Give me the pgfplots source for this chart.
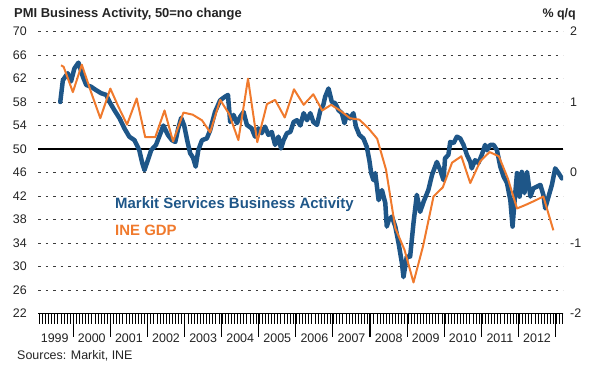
\documentclass[border=0pt]{standalone}
\usepackage{pgfplots}
\pgfplotsset{compat=1.18}
\usepackage{fontspec}
\setmainfont{Liberation Sans}
\definecolor{pmiblue}{RGB}{30,86,136}
\definecolor{gdporange}{RGB}{240,122,45}
\definecolor{txt}{RGB}{35,35,35}
\definecolor{gridc}{RGB}{60,60,60}
\begin{document}
\begin{tikzpicture}[x=1bp,y=1bp]
\path[use as bounding box] (0,0) rectangle (589,376);
\pgfplotsset{
  common/.style={
    at={(38bp,62.5bp)}, anchor=south west,
    width=525bp, height=282bp, scale only axis,
    xmin=1999.05, xmax=2013.2,
    axis line style={draw=none},
    ytick style={draw=none},
    tick label style={font=\fontsize{12.5}{14}\selectfont, text=txt, inner sep=0pt},
  }
}
\begin{axis}[common,
  ymin=22, ymax=70,
  ytick={22,26,...,70},
  yticklabels={22,26,30,34,38,42,46,50,54,58,62,66,70},
  yticklabel style={anchor=east, xshift=12bp},
  ymajorgrids,
  major grid style={dash pattern=on 2.5bp off 5bp, gridc, line width=0.9bp},
  xtick pos=bottom, tick align=outside,
  xtick={2000,...,2013},
  xticklabels={},
  minor xtick={1999.0833,1999.1667,...,2013.2},
  major tick length=23bp, minor tick length=10bp,
  xtick style={black, line width=1.1bp},
  minor x tick style={black, line width=0.8bp},
  extra x ticks={1999.5,2000.5,2001.5,2002.5,2003.5,2004.5,2005.5,2006.5,2007.5,2008.5,2009.5,2010.5,2011.5,2012.5},
  extra x tick labels={1999,2000,2001,2002,2003,2004,2005,2006,2007,2008,2009,2010,2011,2012},
  extra x tick style={major tick length=0pt, xticklabel style={anchor=base, yshift=-29bp}},
]
\draw[black, line width=1.2bp] (axis cs:1999.05,50) -- (axis cs:2013.2,50);
\draw[black, line width=1.3bp] (axis cs:1999.05,22) -- (axis cs:2013.2,22);
\addplot[pmiblue, line width=4.5bp, line join=round, line cap=round] coordinates {
(1999.65,58.0) (1999.72,61.7) (1999.85,62.9) (1999.94,61.5) (2000.03,63.7) (2000.14,64.7)
(2000.26,62.3) (2000.35,60.9) (2000.48,60.6) (2000.62,60.0) (2000.75,59.5) (2000.89,59.2)
(2000.98,58.0) (2001.11,56.6) (2001.25,55.2) (2001.38,53.5) (2001.51,52.1) (2001.65,51.5)
(2001.78,49.8) (2001.86,47.6) (2001.92,46.4) (2002.01,48.1) (2002.10,49.8) (2002.23,50.7)
(2002.34,52.5) (2002.43,54.0) (2002.55,52.4) (2002.66,51.5) (2002.75,51.2) (2002.83,53.5)
(2002.91,55.3) (2002.99,54.0) (2003.07,51.5) (2003.15,49.3) (2003.23,48.5) (2003.30,47.0)
(2003.37,49.8) (2003.47,51.5) (2003.60,51.8) (2003.69,53.2) (2003.82,56.3) (2003.96,58.3)
(2004.09,58.9) (2004.17,59.2) (2004.23,54.6) (2004.32,55.8) (2004.41,54.4) (2004.50,55.5)
(2004.59,56.3) (2004.68,54.1) (2004.81,53.5) (2004.90,52.1) (2004.99,53.5) (2005.08,52.7)
(2005.17,53.8) (2005.26,52.4) (2005.35,52.9) (2005.44,50.7) (2005.53,52.1) (2005.60,50.1)
(2005.67,51.5) (2005.76,52.7) (2005.85,52.9) (2005.94,54.6) (2006.03,54.9) (2006.12,54.0)
(2006.21,56.1) (2006.30,54.9) (2006.39,56.1) (2006.47,54.6) (2006.57,54.1) (2006.66,56.6)
(2006.74,57.5) (2006.79,58.9) (2006.88,60.3) (2006.97,58.0) (2007.06,57.8) (2007.15,56.6)
(2007.24,56.1) (2007.31,54.4) (2007.37,55.8) (2007.46,55.2) (2007.55,56.1) (2007.62,53.8)
(2007.71,52.4) (2007.82,51.8) (2007.91,50.4) (2007.98,48.1) (2008.03,45.9) (2008.09,44.7)
(2008.14,45.9) (2008.23,41.3) (2008.32,43.0) (2008.41,40.8) (2008.45,36.8) (2008.51,38.0)
(2008.59,38.5) (2008.68,36.8) (2008.77,33.9) (2008.86,30.5) (2008.90,28.2) (2008.99,31.7)
(2009.08,31.7) (2009.17,37.4) (2009.26,42.2) (2009.35,39.3) (2009.44,41.0) (2009.57,43.0)
(2009.67,45.6) (2009.80,47.8) (2009.89,46.4) (2009.98,44.7) (2010.02,48.4) (2010.11,49.0)
(2010.16,51.2) (2010.25,51.0) (2010.34,52.1) (2010.43,51.8) (2010.52,50.7) (2010.61,49.0)
(2010.70,47.8) (2010.74,46.7) (2010.83,48.1) (2010.92,47.6) (2011.01,49.0) (2011.10,50.7)
(2011.15,49.8) (2011.24,50.7) (2011.33,50.7) (2011.42,49.8) (2011.51,47.0) (2011.60,45.3)
(2011.69,44.2) (2011.78,41.3) (2011.84,36.8) (2011.89,40.8) (2011.96,45.9) (2012.03,41.9)
(2012.09,46.1) (2012.16,42.5) (2012.23,46.1) (2012.32,41.9) (2012.40,43.3) (2012.50,43.6)
(2012.59,43.9) (2012.67,42.2) (2012.72,39.9) (2012.81,41.9) (2012.90,43.9) (2012.99,46.7)
(2013.08,45.9) (2013.17,45.0)
};
\end{axis}
\begin{axis}[common,
  ymin=-2, ymax=2,
  hide x axis,
  ytick={-2,-1,0,1,2},
  yticklabels={-2,-1,0,1,2},
  ytick pos=right, yticklabel pos=right,
  yticklabel style={anchor=west, xshift=7bp},
]
\addplot[gdporange, line width=2bp, line join=round] coordinates {
(1999.67,1.52) (1999.74,1.50) (1999.99,1.14) (2000.23,1.53) (2000.48,1.14) (2000.73,0.77)
(2001.00,1.19) (2001.22,0.93) (2001.45,0.68) (2001.71,1.05) (2001.94,0.50) (2002.21,0.50)
(2002.46,0.88) (2002.69,0.44) (2002.97,0.85) (2003.22,0.82) (2003.47,0.74) (2003.69,0.57)
(2003.96,1.03) (2004.20,0.83) (2004.45,0.46) (2004.71,1.33) (2004.96,0.43) (2005.22,0.97)
(2005.44,1.03) (2005.70,0.78) (2005.95,1.18) (2006.21,0.96) (2006.47,1.11) (2006.71,0.88)
(2006.95,0.96) (2007.19,0.88) (2007.46,0.77) (2007.71,0.75) (2007.95,0.63) (2008.19,0.48)
(2008.43,0.04) (2008.68,-0.79) (2008.93,-1.10) (2009.17,-1.56) (2009.43,-1.04) (2009.71,-0.34)
(2009.96,-0.21) (2010.21,0.14) (2010.46,0.23) (2010.70,-0.15) (2010.97,0.16) (2011.22,0.29)
(2011.47,0.23) (2011.71,-0.08) (2011.96,-0.51) (2012.19,-0.46) (2012.44,-0.40) (2012.67,-0.34)
(2012.94,-0.82)
};
\end{axis}
\node[anchor=base west, inner sep=0pt, text=txt, font=\bfseries\fontsize{13}{15}\selectfont] at (14,358.7) {PMI Business Activity, 50=no change};
\node[anchor=base east, inner sep=0pt, text=txt, font=\bfseries\fontsize{12.5}{15}\selectfont] at (576,358.5) {\% q/q};
\node[anchor=base west, inner sep=0pt, text=pmiblue, font=\bfseries\fontsize{15}{17}\selectfont] at (115,168) {Markit Services Business Activity};
\node[anchor=base west, inner sep=0pt, text=gdporange, font=\bfseries\fontsize{15}{17}\selectfont] at (115,141) {INE GDP};
\node[anchor=base west, inner sep=0pt, text=txt, font=\fontsize{12.5}{15}\selectfont] at (17,17) {Sources: Markit, INE};
\end{tikzpicture}
\end{document}
